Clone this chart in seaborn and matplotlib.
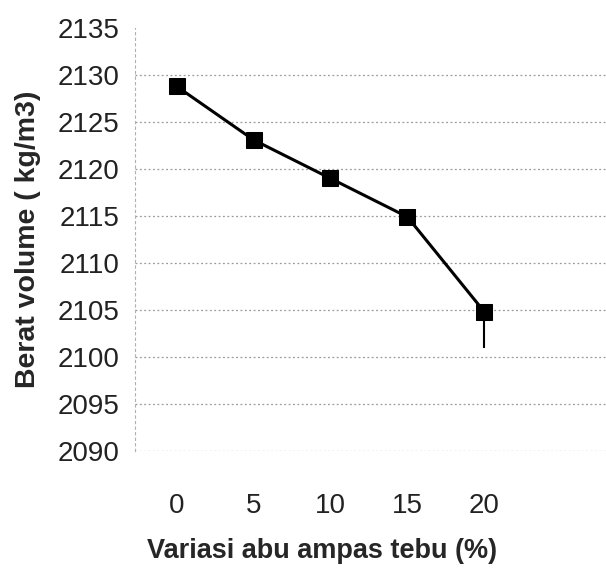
import numpy as np
import pandas as pd
import seaborn as sb
import matplotlib.pyplot as plt

# data
variasi = [0, 5, 10, 15, 20]
berat = [2128.8, 2123.1, 2119.0, 2114.9, 2104.8]
err_bawah = [0, 0, 0, 0, 3.8]
err_atas = [0, 0, 0, 0, 0]
yticks = [2090, 2095, 2100, 2105, 2110, 2115, 2120, 2125, 2130, 2135]

df = pd.DataFrame({'variasi': variasi, 'berat': berat})

sb.set_style('white')
plt.rcParams['font.family'] = ['Liberation Sans', 'DejaVu Sans']

fig = plt.figure(figsize=(6.06, 5.79), dpi=100)
ax = fig.add_axes([135/606, 1 - 451/579, 1 - 135/606, (451 - 28)/579])

# error bar (only the lower arm is visible)
ax.errorbar(variasi, berat, yerr=[err_bawah, err_atas], fmt='none',
            ecolor='black', elinewidth=1.5, capsize=0, zorder=2)

sb.lineplot(data=df, x='variasi', y='berat', ax=ax, color='black',
            linewidth=2.2, marker='s', markersize=11, markeredgecolor='black',
            zorder=3)

ax.set_xlim(-2.7, 27.9)
ax.set_ylim(2090, 2135)
ax.set_yticks(yticks)
ax.set_xticks(variasi)
ax.set_xticklabels(['0', '5', '10', '15', '20'])

ax.grid(axis='y', color='#9a9a9a', linestyle=(0, (1.5, 2)), linewidth=0.9)
# no gridline along the top
ax.get_ygridlines()[-1].set_visible(False)
for s in ['top', 'right', 'bottom']:
    ax.spines[s].set_visible(False)
ax.spines['left'].set_color('#b0b0b0')
ax.spines['left'].set_linestyle((0, (2, 3)))
ax.spines['left'].set_linewidth(0.8)

ax.tick_params(axis='y', length=0, pad=11, labelsize=20, colors='#222222')
ax.tick_params(axis='x', length=0, pad=30, labelsize=20, colors='#222222')

ax.set_xlabel('Variasi abu ampas tebu (%)', fontsize=19.5, fontweight='bold')
ax.xaxis.set_label_coords(0.397, -0.205)
ax.set_ylabel('Berat volume ( kg/m3)', fontsize=20.5, fontweight='bold',
              labelpad=12)

plt.savefig('out.png', dpi=100)
